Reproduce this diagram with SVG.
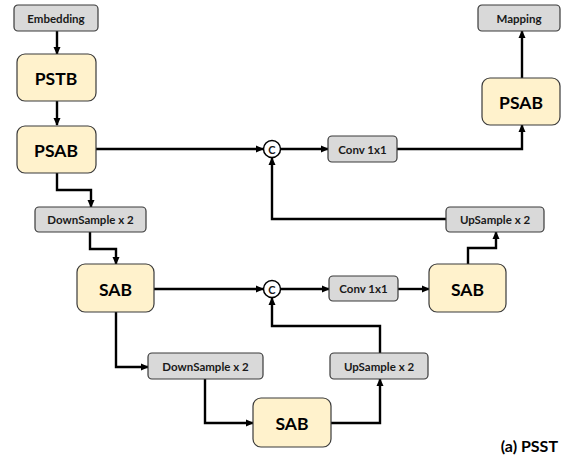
<svg xmlns="http://www.w3.org/2000/svg" width="563" height="458" viewBox="0 0 563 458">
<style>
.g{fill:#d9d9d9;stroke:#3a3a3a;stroke-width:1.2}
.y{fill:#fff2cc;stroke:#3a3a3a;stroke-width:1.2}
.s{font-family:Lato,"Open Sans",sans-serif;font-weight:bold;font-size:11.5px;fill:#1a1a1a;text-anchor:middle;dominant-baseline:central}
.b{font-family:Lato,"Open Sans",sans-serif;font-weight:bold;font-size:17.5px;fill:#000;text-anchor:middle;dominant-baseline:central}
.c{fill:#fff;stroke:#000;stroke-width:1.5}
.e{fill:none;stroke:#000;stroke-width:2.4;marker-end:url(#a)}
</style>
<defs>
<marker id="a" markerWidth="8" markerHeight="8" refX="7" refY="4" orient="auto" markerUnits="userSpaceOnUse">
<path d="M0,0.5 L8,4 L0,7.5 Z" fill="#000"/>
</marker>
</defs>
<rect width="563" height="458" fill="#fff"/>
<g id="connectors">
<path class="e" d="M57,31 V54"/>
<path class="e" d="M57,101 V125"/>
<path class="e" d="M96,149 H263"/>
<path class="e" d="M57,173 V190 H91 V207"/>
<path class="e" d="M281,149 H328"/>
<path class="e" d="M397,149 H522 V125"/>
<path class="e" d="M522,78 V31"/>
<path class="e" d="M446,219 H272 V158"/>
<path class="e" d="M90,232 V249 H116 V264"/>
<path class="e" d="M154,289 H263"/>
<path class="e" d="M281,289 H329"/>
<path class="e" d="M398,289 H429"/>
<path class="e" d="M468,264 V248 H496 V232"/>
<path class="e" d="M380,353 V326 H272 V298"/>
<path class="e" d="M116,312 V367 H148"/>
<path class="e" d="M205,379 V423 H253"/>
<path class="e" d="M331,423 H380 V379"/>
</g>
<g id="embedding"><rect class="g" x="14" y="5" width="84" height="26" rx="4"/><text class="s" x="56" y="18">Embedding</text></g>
<g id="pstb"><rect class="y" x="17" y="54" width="79" height="47" rx="8"/><text class="b" x="56" y="78">PSTB</text></g>
<g id="psab1"><rect class="y" x="17" y="126" width="79" height="47" rx="8"/><text class="b" x="56" y="150">PSAB</text></g>
<g id="down1"><rect class="g" x="35" y="207" width="111" height="25" rx="4"/><text class="s" x="90.5" y="219.5">DownSample x 2</text></g>
<g id="cat1"><circle class="c" cx="272" cy="149" r="8.5"/><text class="s" x="272" y="149" style="font-size:11px">C</text></g>
<g id="conv1"><rect class="g" x="328" y="136" width="69" height="26" rx="4"/><text class="s" x="362.5" y="149">Conv 1x1</text></g>
<g id="psab2"><rect class="y" x="482" y="78" width="78" height="47" rx="8"/><text class="b" x="521" y="102">PSAB</text></g>
<g id="mapping"><rect class="g" x="478" y="5" width="82" height="26" rx="4"/><text class="s" x="519" y="18">Mapping</text></g>
<g id="up1"><rect class="g" x="446" y="207" width="98" height="25" rx="4"/><text class="s" x="495" y="219.5">UpSample x 2</text></g>
<g id="sab1"><rect class="y" x="77" y="264" width="77" height="48" rx="8"/><text class="b" x="115.5" y="289">SAB</text></g>
<g id="cat2"><circle class="c" cx="272" cy="289" r="8.5"/><text class="s" x="272" y="289" style="font-size:11px">C</text></g>
<g id="conv2"><rect class="g" x="329" y="276" width="69" height="25" rx="4"/><text class="s" x="363.5" y="288.5">Conv 1x1</text></g>
<g id="sab2"><rect class="y" x="429" y="264" width="77" height="48" rx="8"/><text class="b" x="467.5" y="289">SAB</text></g>
<g id="down2"><rect class="g" x="148" y="353" width="115" height="26" rx="4"/><text class="s" x="205.5" y="366">DownSample x 2</text></g>
<g id="up2"><rect class="g" x="330" y="353" width="98" height="26" rx="4"/><text class="s" x="379" y="366">UpSample x 2</text></g>
<g id="sab3"><rect class="y" x="253" y="398" width="78" height="49" rx="8"/><text class="b" x="292" y="423">SAB</text></g>
<text x="558" y="452" style="font-family:Lato,'Open Sans',sans-serif;font-weight:bold;font-size:16px;text-anchor:end">(a) PSST</text>
</svg>
